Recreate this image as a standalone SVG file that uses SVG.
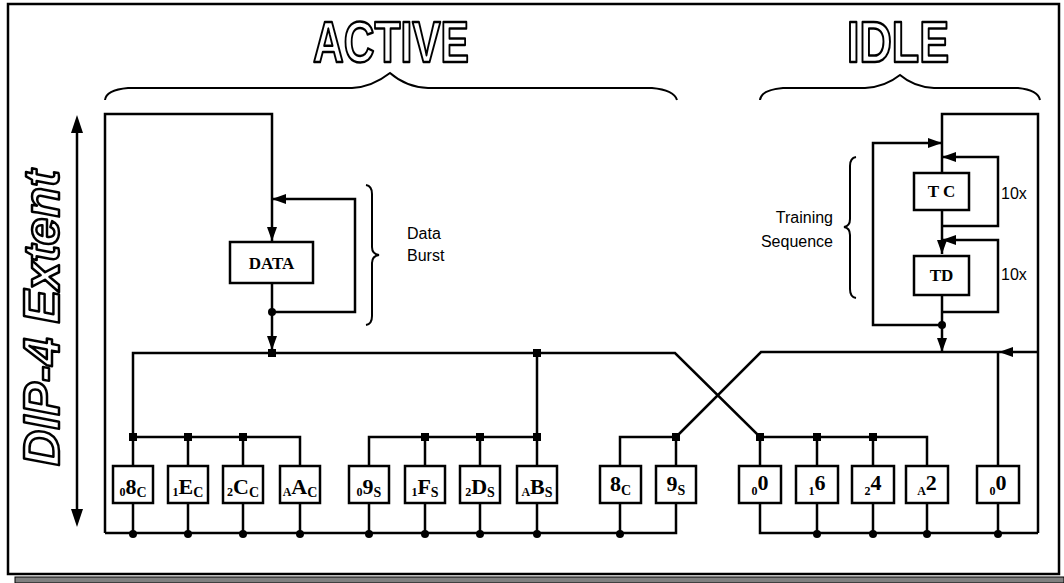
<svg xmlns="http://www.w3.org/2000/svg" width="1064" height="583" viewBox="0 0 1064 583">
<style>
.ln{fill:none;stroke:#000;stroke-width:2.5;stroke-linejoin:miter}
.br{fill:none;stroke:#000;stroke-width:2}
.box{fill:#fff;stroke:#000;stroke-width:2.5}
.dot{fill:#000}
.ttl{font-family:"Liberation Sans",Arial,sans-serif;font-weight:bold;fill:#fff;stroke:#000;stroke-width:2.5;stroke-linejoin:round}
.lbl{font-family:"Liberation Sans",Arial,sans-serif;font-size:16px;fill:#000}
.nb{font-family:"Liberation Serif","Times New Roman",serif;font-weight:bold;fill:#000}
.pre{font-size:12px}
.suf{font-size:14px}
</style>
<defs>
<marker id="ah" viewBox="0 0 14 10" refX="14" refY="5" markerWidth="14" markerHeight="10" markerUnits="userSpaceOnUse" orient="auto">
<path d="M0,0 L14,5 L0,10 z" fill="#000"/>
</marker>
</defs>
<rect width="1064" height="583" fill="#fff"/>
<!-- frame and shadow -->
<rect x="15" y="577" width="1049" height="6" fill="#808080" stroke="#000" stroke-width="1"/>
<rect x="8" y="4" width="1051" height="570" fill="#fff" stroke="#000" stroke-width="2.5"/>

<!-- titles -->
<g id="title-active"><text class="ttl" x="391" y="62" font-size="58" text-anchor="middle" textLength="156" lengthAdjust="spacingAndGlyphs">ACTIVE</text></g>
<g id="title-idle"><text class="ttl" x="898" y="62" font-size="58" text-anchor="middle" textLength="102" lengthAdjust="spacingAndGlyphs">IDLE</text></g>
<g id="label-dip4"><text class="ttl" transform="translate(59,318) rotate(-90)" font-size="50" font-style="italic" text-anchor="middle" textLength="296" lengthAdjust="spacingAndGlyphs">DIP-4 Extent</text></g>

<!-- braces -->
<g id="braces">
<path class="br" d="M105,100 Q106,90 128,88 H352 Q372,87 390,73 Q406,87 428,88 H652 Q674,90 677,100"/>
<path class="br" d="M760,100 Q761,90 783,88 H865 Q885,87 900,75 Q914,87 934,88 H1018 Q1038,90 1040,100"/>
<path class="br" d="M366,185 Q372,186 372,194 V247 Q372,254 379,255 Q372,256 372,263 V316 Q372,324 366,325"/>
<path class="br" d="M856,157 Q850,158 850,166 V219 Q850,226 844,227 Q850,228 850,235 V289 Q850,297 856,298"/>
</g>

<!-- vertical double arrow -->
<g id="extent-arrow">
<line class="ln" x1="77" y1="130" x2="77" y2="512"/>
<path d="M77,115 L71,133 L83,133 z" fill="#000"/>
<path d="M77,527 L71,509 L83,509 z" fill="#000"/>
</g>

<!-- connectors -->
<g id="connectors">
<path class="ln" d="M105,533 V114 H272 V241" marker-end="url(#ah)"/>
<path class="ln" d="M272,312 H355 V199 H272" marker-end="url(#ah)"/>
<path class="ln" d="M272,283 V350" marker-end="url(#ah)"/>
<path class="ln" d="M133,466 V353 H675 L760,437 H927 V466"/>
<path class="ln" d="M133,437 H300 V466 M188,437 V466 M243,437 V466"/>
<path class="ln" d="M537,353 V466 M369,466 V437 H537 M425,437 V466 M480,437 V466"/>
<path class="ln" d="M620,466 V437 H676 V466 M676,437 L761,352 H998 V466"/>
<path class="ln" d="M760,437 V466 M817,437 V466 M873,437 V466"/>
<path class="ln" d="M105,533 H676 V503 M133,503 V533 M188,503 V533 M243,503 V533 M300,503 V533 M369,503 V533 M425,503 V533 M480,503 V533 M537,503 V533 M620,503 V533"/>
<path class="ln" d="M760,503 V533 H1038 M817,503 V533 M873,503 V533 M927,503 V533 M998,503 V533"/>
<!-- idle side -->
<path class="ln" d="M1038,533 V114 H942 V173"/>
<path class="ln" d="M942,325 H873 V143 H942" marker-end="url(#ah)"/>
<path class="ln" d="M942,226 H998 V157 H942" marker-end="url(#ah)"/>
<path class="ln" d="M942,210 V254" marker-end="url(#ah)"/>
<path class="ln" d="M942,312 H998 V240 H942" marker-end="url(#ah)"/>
<path class="ln" d="M942,295 V352" marker-end="url(#ah)"/>
<path class="ln" d="M1038,352 H999" marker-end="url(#ah)"/>
<!-- junction dots -->
<g class="dot">
<rect x="268" y="349" width="8" height="8"/>
<rect x="533" y="349" width="8" height="8"/>
<rect x="129" y="433" width="8" height="8"/>
<rect x="184" y="433" width="8" height="8"/>
<rect x="239" y="433" width="8" height="8"/>
<rect x="421" y="433" width="8" height="8"/>
<rect x="476" y="433" width="8" height="8"/>
<rect x="533" y="433" width="8" height="8"/>
<rect x="672" y="433" width="8" height="8"/>
<rect x="756" y="433" width="8" height="8"/>
<rect x="813" y="433" width="8" height="8"/>
<rect x="869" y="433" width="8" height="8"/>
<circle cx="272" cy="312" r="4"/>
<circle cx="942" cy="325" r="4"/>
<circle cx="133" cy="534" r="4"/>
<circle cx="188" cy="534" r="4"/>
<circle cx="243" cy="534" r="4"/>
<circle cx="300" cy="534" r="4"/>
<circle cx="369" cy="534" r="4"/>
<circle cx="425" cy="534" r="4"/>
<circle cx="480" cy="534" r="4"/>
<circle cx="537" cy="534" r="4"/>
<circle cx="620" cy="534" r="4"/>
<circle cx="817" cy="534" r="4"/>
<circle cx="873" cy="534" r="4"/>
<circle cx="927" cy="534" r="4"/>
<circle cx="998" cy="534" r="4"/>
</g>
</g>

<!-- labels -->
<g id="label-databurst"><text class="lbl" x="407" y="239">Data</text><text class="lbl" x="407" y="261">Burst</text></g>
<g id="label-training"><text class="lbl" x="833" y="223" text-anchor="end">Training</text><text class="lbl" x="833" y="247" text-anchor="end">Sequence</text></g>
<g id="label-10x-1"><text class="lbl" x="1001" y="199">10x</text></g>
<g id="label-10x-2"><text class="lbl" x="1001" y="280">10x</text></g>

<!-- main nodes -->
<g id="node-data"><rect class="box" x="230" y="242" width="83" height="41"/><text class="nb" x="271.5" y="269" font-size="17" text-anchor="middle">DATA</text></g>
<g id="node-tc"><rect class="box" x="914" y="173" width="55" height="37"/><text class="nb" x="941.5" y="197" font-size="17" text-anchor="middle">T C</text></g>
<g id="node-td"><rect class="box" x="914" y="256" width="55" height="39"/><text class="nb" x="941.5" y="281" font-size="17" text-anchor="middle">TD</text></g>

<!-- bottom nodes -->
<g id="node-08c"><rect class="box" x="113" y="466" width="40" height="37"/><text class="nb" x="133" y="494" font-size="22" text-anchor="middle"><tspan class="pre" dy="2">0</tspan><tspan dy="-2">8</tspan><tspan class="suf" dy="3">C</tspan></text></g>
<g id="node-1ec"><rect class="box" x="168" y="466" width="40" height="37"/><text class="nb" x="188" y="494" font-size="22" text-anchor="middle"><tspan class="pre" dy="2">1</tspan><tspan dy="-2">E</tspan><tspan class="suf" dy="3">C</tspan></text></g>
<g id="node-2cc"><rect class="box" x="223" y="466" width="40" height="37"/><text class="nb" x="243" y="494" font-size="22" text-anchor="middle"><tspan class="pre" dy="2">2</tspan><tspan dy="-2">C</tspan><tspan class="suf" dy="3">C</tspan></text></g>
<g id="node-aac"><rect class="box" x="280" y="466" width="40" height="37"/><text class="nb" x="300" y="494" font-size="22" text-anchor="middle"><tspan class="pre" dy="2">A</tspan><tspan dy="-2">A</tspan><tspan class="suf" dy="3">C</tspan></text></g>
<g id="node-09s"><rect class="box" x="349" y="466" width="40" height="37"/><text class="nb" x="369" y="494" font-size="22" text-anchor="middle"><tspan class="pre" dy="2">0</tspan><tspan dy="-2">9</tspan><tspan class="suf" dy="3">S</tspan></text></g>
<g id="node-1fs"><rect class="box" x="405" y="466" width="40" height="37"/><text class="nb" x="425" y="494" font-size="22" text-anchor="middle"><tspan class="pre" dy="2">1</tspan><tspan dy="-2">F</tspan><tspan class="suf" dy="3">S</tspan></text></g>
<g id="node-2ds"><rect class="box" x="460" y="466" width="40" height="37"/><text class="nb" x="480" y="494" font-size="22" text-anchor="middle"><tspan class="pre" dy="2">2</tspan><tspan dy="-2">D</tspan><tspan class="suf" dy="3">S</tspan></text></g>
<g id="node-abs"><rect class="box" x="517" y="466" width="40" height="37"/><text class="nb" x="537" y="494" font-size="22" text-anchor="middle"><tspan class="pre" dy="2">A</tspan><tspan dy="-2">B</tspan><tspan class="suf" dy="3">S</tspan></text></g>
<g id="node-8c"><rect class="box" x="600" y="466" width="41" height="37"/><text class="nb" x="620.5" y="491" font-size="22" text-anchor="middle">8<tspan class="suf" dy="4">C</tspan></text></g>
<g id="node-9s"><rect class="box" x="656" y="466" width="40" height="37"/><text class="nb" x="676" y="491" font-size="22" text-anchor="middle">9<tspan class="suf" dy="4">S</tspan></text></g>
<g id="node-00a"><rect class="box" x="739" y="466" width="42" height="37"/><text class="nb" x="760" y="490" font-size="22" text-anchor="middle"><tspan class="pre" dy="5">0</tspan><tspan dy="-5">0</tspan></text></g>
<g id="node-16"><rect class="box" x="796" y="466" width="42" height="37"/><text class="nb" x="817" y="490" font-size="22" text-anchor="middle"><tspan class="pre" dy="5">1</tspan><tspan dy="-5">6</tspan></text></g>
<g id="node-24"><rect class="box" x="852" y="466" width="42" height="37"/><text class="nb" x="873" y="490" font-size="22" text-anchor="middle"><tspan class="pre" dy="5">2</tspan><tspan dy="-5">4</tspan></text></g>
<g id="node-a2"><rect class="box" x="906" y="466" width="42" height="37"/><text class="nb" x="927" y="490" font-size="22" text-anchor="middle"><tspan class="pre" dy="5">A</tspan><tspan dy="-5">2</tspan></text></g>
<g id="node-00b"><rect class="box" x="977" y="466" width="42" height="37"/><text class="nb" x="998" y="490" font-size="22" text-anchor="middle"><tspan class="pre" dy="5">0</tspan><tspan dy="-5">0</tspan></text></g>
</svg>
